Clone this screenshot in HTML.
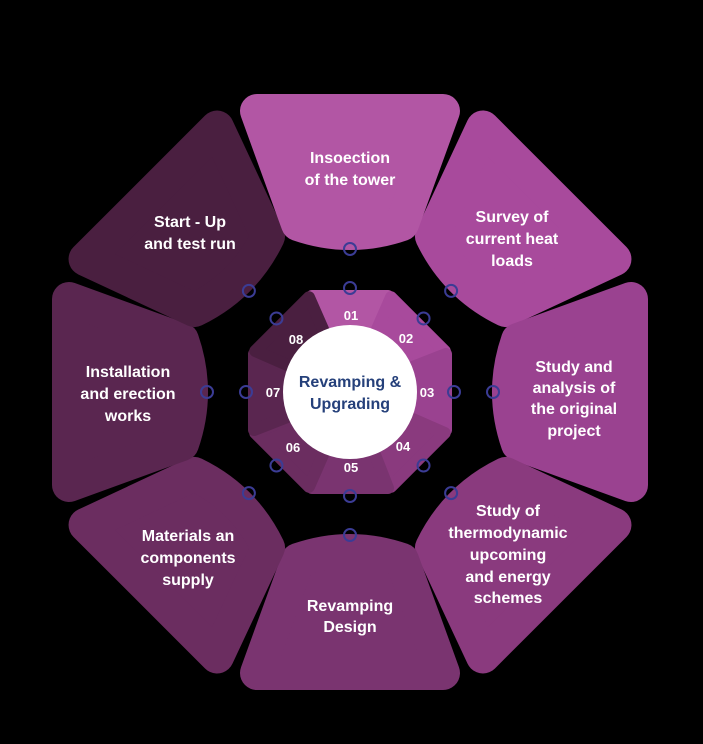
<!DOCTYPE html>
<html><head><meta charset="utf-8"><style>
html,body{margin:0;padding:0;background:#000;}
svg{display:block}
text{font-family:"Liberation Sans",sans-serif;font-weight:bold;fill:#fff;text-anchor:middle}
</style></head><body>
<svg width="703" height="744" viewBox="0 0 703 744">
<rect width="703" height="744" fill="#000"/>
<g transform="translate(350,392)">
  <defs>
    <path id="seg" d="M-93,-281 L93,-281 L52,-168 Q0,-150 -52,-168 Z" stroke-linejoin="round" stroke-width="34"/>
    <path id="iseg" d="M-38,-96 L38,-96 L22,-55 L-22,-55 Z" stroke-linejoin="round" stroke-width="12"/>
    <g id="mk"><circle cx="0" cy="-143" r="6" fill="none" stroke="#3b3c95" stroke-width="2"/></g>
    <g id="mk2"><circle cx="0" cy="-104" r="6" fill="none" stroke="#3b3c95" stroke-width="2"/></g>
  </defs>
  <use href="#seg" transform="rotate(45)" fill="#a84a9c" stroke="#a84a9c"/>
  <use href="#seg" transform="rotate(90)" fill="#9a4290" stroke="#9a4290"/>
  <use href="#seg" transform="rotate(135)" fill="#8a3a7e" stroke="#8a3a7e"/>
  <use href="#seg" transform="rotate(180)" fill="#7a3470" stroke="#7a3470"/>
  <use href="#seg" transform="rotate(225)" fill="#6b2d60" stroke="#6b2d60"/>
  <use href="#seg" transform="rotate(270)" fill="#5a2650" stroke="#5a2650"/>
  <use href="#seg" transform="rotate(315)" fill="#4a1f40" stroke="#4a1f40"/>
  <use href="#seg" fill="#b256a4" stroke="#b256a4"/>
  <use href="#iseg" fill="#b256a4" stroke="#b256a4"/>
  <use href="#iseg" transform="rotate(45)" fill="#a84a9c" stroke="#a84a9c"/>
  <use href="#iseg" transform="rotate(90)" fill="#9a4290" stroke="#9a4290"/>
  <use href="#iseg" transform="rotate(135)" fill="#8a3a7e" stroke="#8a3a7e"/>
  <use href="#iseg" transform="rotate(180)" fill="#7a3470" stroke="#7a3470"/>
  <use href="#iseg" transform="rotate(225)" fill="#6b2d60" stroke="#6b2d60"/>
  <use href="#iseg" transform="rotate(270)" fill="#5a2650" stroke="#5a2650"/>
  <use href="#iseg" transform="rotate(315)" fill="#4a1f40" stroke="#4a1f40"/>
  <use href="#mk"/><use href="#mk" transform="rotate(45)"/><use href="#mk" transform="rotate(90)"/><use href="#mk" transform="rotate(135)"/>
  <use href="#mk" transform="rotate(180)"/><use href="#mk" transform="rotate(225)"/><use href="#mk" transform="rotate(270)"/><use href="#mk" transform="rotate(315)"/>
  <use href="#mk2"/><use href="#mk2" transform="rotate(45)"/><use href="#mk2" transform="rotate(90)"/><use href="#mk2" transform="rotate(135)"/>
  <use href="#mk2" transform="rotate(180)"/><use href="#mk2" transform="rotate(225)"/><use href="#mk2" transform="rotate(270)"/><use href="#mk2" transform="rotate(315)"/>
  <circle cx="0" cy="0" r="67" fill="#fff"/>
</g>
<g font-size="16">
<text x="350" y="163">Insoection</text><text x="350" y="185">of the tower</text>
<text x="512" y="222">Survey of</text><text x="512" y="244">current heat</text><text x="512" y="266">loads</text>
<text x="574" y="372">Study and</text><text x="574" y="393">analysis of</text><text x="574" y="414">the original</text><text x="574" y="436">project</text>
<text x="508" y="516">Study of</text><text x="508" y="538">thermodynamic</text><text x="508" y="560">upcoming</text><text x="508" y="582">and energy</text><text x="508" y="603">schemes</text>
<text x="350" y="611">Revamping</text><text x="350" y="632">Design</text>
<text x="188" y="541">Materials an</text><text x="188" y="563">components</text><text x="188" y="585">supply</text>
<text x="128" y="377">Installation</text><text x="128" y="399">and erection</text><text x="128" y="421">works</text>
<text x="190" y="227">Start - Up</text><text x="190" y="249">and test run</text>
</g>
<g font-size="13">
<text x="351" y="320">01</text><text x="406" y="343">02</text><text x="427" y="397">03</text><text x="403" y="451">04</text>
<text x="351" y="472">05</text><text x="293" y="452">06</text><text x="273" y="397">07</text><text x="296" y="344">08</text>
</g>
<g font-size="16">
<text x="350" y="387" style="fill:#25407a">Revamping &amp;</text><text x="350" y="409" style="fill:#25407a">Upgrading</text>
</g>
</svg>
</body></html>
